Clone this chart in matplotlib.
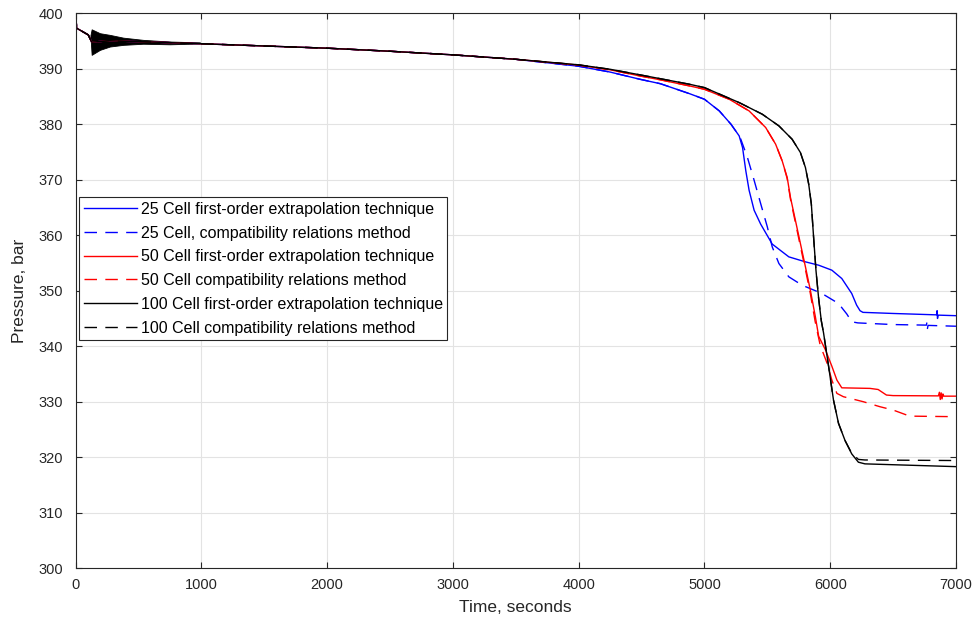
import matplotlib.pyplot as plt
import numpy as np

# shared early part of every run (t in s, p in bar)
trunk_t = [0, 9, 101, 128, 194, 273, 379, 538, 750, 1000, 1500, 2000, 2500, 3000, 3500]
trunk_p = [400.0, 397.3, 396.1, 394.8, 394.9, 395.05, 394.95, 394.85, 394.7, 394.5, 394.1, 393.7, 393.15, 392.5, 391.7]

# start-up oscillation envelope (drawn as a filled band)
osc_t = [118, 128, 194, 273, 379, 538, 750, 989]
osc_hi = [396.0, 397.1, 396.4, 396.1, 395.6, 395.2, 394.9, 394.75]
osc_lo = [396.0, 392.5, 393.4, 394.0, 394.3, 394.5, 394.4, 394.55]

# tails after 4000 s (small spikes near the end are solver glitches seen in the plot)
b_solid_t = [4000, 4250, 4487, 4650, 4882, 5000, 5118, 5211, 5276, 5303, 5329, 5355, 5395, 5447, 5539, 5671,
	5803, 5908, 6013, 6092, 6171, 6210, 6237, 6260, 6500, 6845, 6850, 6853, 6858, 7000]
b_solid_p = [390.45, 389.4, 388.1, 387.3, 385.5, 384.5, 382.4, 380.0, 377.9, 375.8, 371.6, 368.1, 364.5, 362.0, 358.4, 356.1,
	355.2, 354.6, 353.7, 352.2, 349.5, 347.4, 346.4, 346.1, 345.9, 345.65, 346.4, 345.0, 345.6, 345.5]

b_dash_t = [4000, 4250, 4487, 4650, 4882, 5000, 5118, 5211, 5276, 5289, 5342, 5395, 5447, 5500, 5539, 5592,
	5671, 5776, 5934, 6066, 6132, 6171, 6220, 6500, 6765, 6770, 6773, 6778, 7000]
b_dash_p = [390.45, 389.4, 388.1, 387.3, 385.5, 384.5, 382.4, 380.0, 377.9, 377.3, 374.0, 369.9, 365.7, 361.5, 357.9, 354.9,
	352.5, 351.0, 349.5, 347.7, 345.8, 344.4, 344.2, 343.9, 343.8, 344.5, 343.2, 343.75, 343.6]

r_solid_t = [4000, 4250, 4487, 4650, 4882, 5000, 5197, 5355, 5487, 5566, 5618, 5658, 5684, 5724, 5763, 5803,
	5842, 5882, 5908, 5961, 6013, 6053, 6092, 6316, 6381, 6447, 6500, 6860, 6868, 6875, 6882, 6889, 6896, 6903, 7000]
r_solid_p = [390.65, 389.8, 388.7, 388.0, 386.9, 386.3, 384.5, 382.4, 379.4, 376.4, 373.4, 370.4, 366.8, 362.6, 358.5, 354.3,
	350.1, 345.3, 341.8, 339.4, 336.4, 333.9, 332.5, 332.4, 332.2, 331.2, 331.1, 331.05, 331.7, 330.4, 331.6, 330.5, 331.4, 331.0, 331.0]

r_dash_t = [4000, 4250, 4487, 4650, 4882, 5000, 5197, 5355, 5487, 5566, 5618, 5658, 5684, 5724, 5763, 5803,
	5842, 5880, 5920, 5974, 6013, 6053, 6105, 6263, 6395, 6500, 6632, 7000]
r_dash_p = [390.65, 389.8, 388.7, 388.0, 386.9, 386.3, 384.5, 382.4, 379.4, 376.4, 373.4, 370.2, 366.5, 362.2, 358.0, 353.8,
	349.5, 344.5, 340.2, 337.0, 333.9, 331.5, 330.9, 330.0, 329.1, 328.5, 327.4, 327.3]

k_solid_t = [4000, 4250, 4487, 4650, 4882, 5000, 5276, 5460, 5592, 5697, 5763, 5803, 5829, 5850, 5868, 5887,
	5908, 5929, 5947, 5987, 6026, 6066, 6118, 6171, 6224, 6276, 7000]
k_solid_p = [390.7, 389.9, 388.9, 388.2, 387.2, 386.6, 383.9, 381.8, 379.7, 377.3, 374.9, 372.2, 369.2, 365.6, 359.6, 353.6,
	348.6, 344.6, 342.4, 336.4, 330.3, 326.1, 323.0, 320.6, 319.1, 318.8, 318.3]

k_dash_t = [4000, 4250, 4487, 4650, 4882, 5000, 5276, 5460, 5592, 5697, 5763, 5803, 5829, 5850, 5868, 5887,
	5908, 5929, 5947, 5987, 6026, 6066, 6118, 6171, 6224, 6276, 7000]
k_dash_p = [390.7, 389.9, 388.9, 388.2, 387.2, 386.6, 383.9, 381.8, 379.7, 377.3, 374.9, 372.2, 369.2, 365.6, 359.6, 353.6,
	348.6, 344.6, 342.4, 336.4, 330.3, 326.1, 323.0, 320.7, 319.6, 319.5, 319.4]

labels = [
	'25 Cell first-order extrapolation technique',
	'25 Cell, compatibility relations method',
	'50 Cell first-order extrapolation technique',
	'50 Cell compatibility relations method',
	'100 Cell first-order extrapolation technique',
	'100 Cell compatibility relations method',
]

plt.rcParams['font.family'] = ['Liberation Sans', 'DejaVu Sans']
TEXT = '#262626'

fig = plt.figure(figsize=(9.8, 6.3), dpi=100)
ax = fig.add_axes([0.0771, 0.0981, 0.8984, 0.8809])

series = [
	(b_solid_t, b_solid_p, 'blue', '-'),
	(b_dash_t, b_dash_p, 'blue', '--'),
	(r_solid_t, r_solid_p, 'red', '-'),
	(r_dash_t, r_dash_p, 'red', '--'),
	(k_solid_t, k_solid_p, 'black', '-'),
	(k_dash_t, k_dash_p, 'black', '--'),
]

for (t, p, color, ls), label in zip(series, labels):
	tt = np.concatenate([trunk_t, t])
	pp = np.concatenate([trunk_p, p])
	line, = ax.plot(tt, pp, color=color, lw=1.0, ls=ls, label=label)
	if ls == '--':
		line.set_dashes((9, 6))

ax.fill_between(osc_t, osc_lo, osc_hi, color='black', lw=0.6, edgecolor='black')

ax.set_xlim(0, 7000)
ax.set_ylim(300, 400)
ax.set_xticks(np.arange(0, 7001, 1000))
ax.set_yticks(np.arange(300, 401, 10))
ax.grid(True, color='#e3e3e3', lw=0.8)
ax.set_axisbelow(True)
ax.tick_params(direction='in', top=True, right=True, labelsize=10.5, colors=TEXT, length=4)
ax.tick_params(axis='x', pad=7)
ax.tick_params(axis='y', pad=9)
for s in ax.spines.values():
	s.set_color(TEXT)
	s.set_linewidth(0.8)

ax.set_xlabel('Time, seconds', fontsize=12.5, color=TEXT, labelpad=6)
ax.set_ylabel('Pressure, bar', fontsize=12.5, color=TEXT, labelpad=8)

leg = ax.legend(
	loc='upper left',
	bbox_to_anchor=(0.004, 0.669),
	fontsize=11.5,
	handlelength=3.3,
	handletextpad=0.25,
	labelspacing=0.55,
	borderpad=0.3,
	borderaxespad=0.0,
	fancybox=False,
	framealpha=1.0,
	edgecolor=TEXT,
)
leg.get_frame().set_linewidth(0.8)

fig.savefig('out.png', dpi=100)
